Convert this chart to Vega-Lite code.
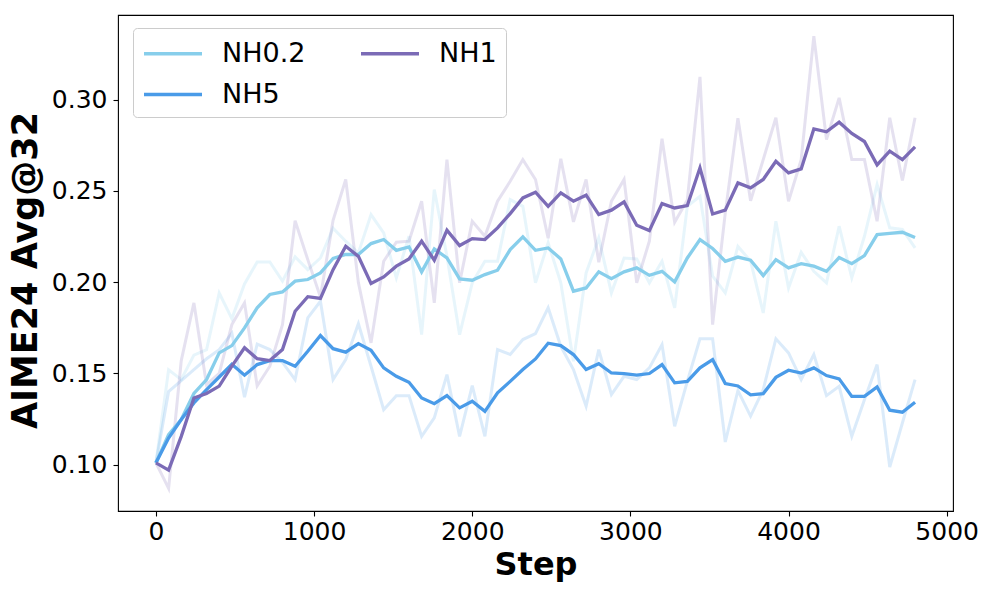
{
"$schema": "https://vega.github.io/schema/vega-lite/v6.json",
"width": 835, "height": 496,
"autosize": {"type": "none"},
"padding": {"left": 118, "top": 15, "right": 43, "bottom": 87},
"background": "white",
"config": {
  "view": {"stroke": "black", "strokeWidth": 1.1},
  "font": "DejaVu Sans",
  "axis": {"grid": false, "domain": false, "tickColor": "black", "tickWidth": 1.1, "tickSize": 5, "labelFont": "DejaVu Sans", "labelFontSize": 25, "labelColor": "black", "titleFont": "DejaVu Sans", "titleFontWeight": "bold", "titleColor": "black"}
},
"data": {"values": [
{"step":0,"series":"NH0.2","raw":0.101,"smooth":0.101},
{"step":80,"series":"NH0.2","raw":0.152,"smooth":0.1164},
{"step":160,"series":"NH0.2","raw":0.1466,"smooth":0.1247},
{"step":240,"series":"NH0.2","raw":0.160,"smooth":0.139},
{"step":320,"series":"NH0.2","raw":0.163,"smooth":0.1466},
{"step":400,"series":"NH0.2","raw":0.194,"smooth":0.1612},
{"step":480,"series":"NH0.2","raw":0.180,"smooth":0.1652},
{"step":560,"series":"NH0.2","raw":0.199,"smooth":0.1749},
{"step":640,"series":"NH0.2","raw":0.211,"smooth":0.1859},
{"step":720,"series":"NH0.2","raw":0.211,"smooth":0.1932},
{"step":800,"series":"NH0.2","raw":0.2005,"smooth":0.1946},
{"step":880,"series":"NH0.2","raw":0.2138,"smooth":0.2005},
{"step":960,"series":"NH0.2","raw":0.2068,"smooth":0.2014},
{"step":1040,"series":"NH0.2","raw":0.2132,"smooth":0.2050},
{"step":1120,"series":"NH0.2","raw":0.2295,"smooth":0.2130},
{"step":1200,"series":"NH0.2","raw":0.2224,"smooth":0.2151},
{"step":1280,"series":"NH0.2","raw":0.2160,"smooth":0.2151},
{"step":1360,"series":"NH0.2","raw":0.2370,"smooth":0.2211},
{"step":1440,"series":"NH0.2","raw":0.2270,"smooth":0.2233},
{"step":1520,"series":"NH0.2","raw":0.2023,"smooth":0.2174},
{"step":1600,"series":"NH0.2","raw":0.2251,"smooth":0.2193},
{"step":1680,"series":"NH0.2","raw":0.1712,"smooth":0.2056},
{"step":1760,"series":"NH0.2","raw":0.2507,"smooth":0.2182},
{"step":1840,"series":"NH0.2","raw":0.2141,"smooth":0.2132},
{"step":1920,"series":"NH0.2","raw":0.1712,"smooth":0.2017},
{"step":2000,"series":"NH0.2","raw":0.1996,"smooth":0.2010},
{"step":2080,"series":"NH0.2","raw":0.2114,"smooth":0.2041},
{"step":2160,"series":"NH0.2","raw":0.2114,"smooth":0.2065},
{"step":2240,"series":"NH0.2","raw":0.2452,"smooth":0.2178},
{"step":2320,"series":"NH0.2","raw":0.2415,"smooth":0.2248},
{"step":2400,"series":"NH0.2","raw":0.1996,"smooth":0.2174},
{"step":2480,"series":"NH0.2","raw":0.2215,"smooth":0.2187},
{"step":2560,"series":"NH0.2","raw":0.1996,"smooth":0.2127},
{"step":2640,"series":"NH0.2","raw":0.1566,"smooth":0.1950},
{"step":2720,"series":"NH0.2","raw":0.2050,"smooth":0.1968},
{"step":2800,"series":"NH0.2","raw":0.2242,"smooth":0.2056},
{"step":2880,"series":"NH0.2","raw":0.1941,"smooth":0.2019},
{"step":2960,"series":"NH0.2","raw":0.2132,"smooth":0.2056},
{"step":3040,"series":"NH0.2","raw":0.2127,"smooth":0.2078},
{"step":3120,"series":"NH0.2","raw":0.1996,"smooth":0.2037},
{"step":3200,"series":"NH0.2","raw":0.2114,"smooth":0.2059},
{"step":3280,"series":"NH0.2","raw":0.1859,"smooth":0.2001},
{"step":3360,"series":"NH0.2","raw":0.2415,"smooth":0.2132},
{"step":3440,"series":"NH0.2","raw":0.2470,"smooth":0.2233},
{"step":3520,"series":"NH0.2","raw":0.2032,"smooth":0.2184},
{"step":3600,"series":"NH0.2","raw":0.1941,"smooth":0.2114},
{"step":3680,"series":"NH0.2","raw":0.2195,"smooth":0.2137},
{"step":3760,"series":"NH0.2","raw":0.2115,"smooth":0.2120},
{"step":3840,"series":"NH0.2","raw":0.1831,"smooth":0.2036},
{"step":3920,"series":"NH0.2","raw":0.2333,"smooth":0.2123},
{"step":4000,"series":"NH0.2","raw":0.1968,"smooth":0.2078},
{"step":4080,"series":"NH0.2","raw":0.2163,"smooth":0.2101},
{"step":4160,"series":"NH0.2","raw":0.2059,"smooth":0.2087},
{"step":4240,"series":"NH0.2","raw":0.1996,"smooth":0.2059},
{"step":4320,"series":"NH0.2","raw":0.2306,"smooth":0.2134},
{"step":4400,"series":"NH0.2","raw":0.2023,"smooth":0.2101},
{"step":4480,"series":"NH0.2","raw":0.2251,"smooth":0.2145},
{"step":4560,"series":"NH0.2","raw":0.2534,"smooth":0.2260},
{"step":4640,"series":"NH0.2","raw":0.2297,"smooth":0.2267},
{"step":4720,"series":"NH0.2","raw":0.2288,"smooth":0.2273},
{"step":4800,"series":"NH0.2","raw":0.2187,"smooth":0.2244},
{"step":0,"series":"NH5","raw":0.101,"smooth":0.101},
{"step":80,"series":"NH5","raw":0.140,"smooth":0.1146},
{"step":160,"series":"NH5","raw":0.146,"smooth":0.1247},
{"step":240,"series":"NH5","raw":0.152,"smooth":0.1338},
{"step":320,"series":"NH5","raw":0.158,"smooth":0.1411},
{"step":400,"series":"NH5","raw":0.163,"smooth":0.148},
{"step":480,"series":"NH5","raw":0.172,"smooth":0.155},
{"step":560,"series":"NH5","raw":0.137,"smooth":0.149},
{"step":640,"series":"NH5","raw":0.166,"smooth":0.1548},
{"step":720,"series":"NH5","raw":0.163,"smooth":0.157},
{"step":800,"series":"NH5","raw":0.156,"smooth":0.157},
{"step":880,"series":"NH5","raw":0.1466,"smooth":0.1539},
{"step":960,"series":"NH5","raw":0.1804,"smooth":0.1621},
{"step":1040,"series":"NH5","raw":0.1895,"smooth":0.1707},
{"step":1120,"series":"NH5","raw":0.1466,"smooth":0.1635},
{"step":1200,"series":"NH5","raw":0.1575,"smooth":0.1616},
{"step":1280,"series":"NH5","raw":0.1772,"smooth":0.1663},
{"step":1360,"series":"NH5","raw":0.1539,"smooth":0.1627},
{"step":1440,"series":"NH5","raw":0.1301,"smooth":0.1530},
{"step":1520,"series":"NH5","raw":0.1378,"smooth":0.1484},
{"step":1600,"series":"NH5","raw":0.1378,"smooth":0.1451},
{"step":1680,"series":"NH5","raw":0.1155,"smooth":0.1365},
{"step":1760,"series":"NH5","raw":0.1256,"smooth":0.1334},
{"step":1840,"series":"NH5","raw":0.1493,"smooth":0.1378},
{"step":1920,"series":"NH5","raw":0.1155,"smooth":0.1311},
{"step":2000,"series":"NH5","raw":0.1433,"smooth":0.1347},
{"step":2080,"series":"NH5","raw":0.1155,"smooth":0.1292},
{"step":2160,"series":"NH5","raw":0.1630,"smooth":0.1393},
{"step":2240,"series":"NH5","raw":0.1603,"smooth":0.1456},
{"step":2320,"series":"NH5","raw":0.1685,"smooth":0.1521},
{"step":2400,"series":"NH5","raw":0.1718,"smooth":0.1579},
{"step":2480,"series":"NH5","raw":0.1859,"smooth":0.1665},
{"step":2560,"series":"NH5","raw":0.1648,"smooth":0.1652},
{"step":2640,"series":"NH5","raw":0.1521,"smooth":0.1603},
{"step":2720,"series":"NH5","raw":0.1320,"smooth":0.1521},
{"step":2800,"series":"NH5","raw":0.1630,"smooth":0.1553},
{"step":2880,"series":"NH5","raw":0.1384,"smooth":0.1502},
{"step":2960,"series":"NH5","raw":0.1484,"smooth":0.1499},
{"step":3040,"series":"NH5","raw":0.1466,"smooth":0.1490},
{"step":3120,"series":"NH5","raw":0.1530,"smooth":0.1499},
{"step":3200,"series":"NH5","raw":0.1658,"smooth":0.1548},
{"step":3280,"series":"NH5","raw":0.1210,"smooth":0.1448},
{"step":3360,"series":"NH5","raw":0.1456,"smooth":0.1456},
{"step":3440,"series":"NH5","raw":0.1689,"smooth":0.1530},
{"step":3520,"series":"NH5","raw":0.1689,"smooth":0.1575},
{"step":3600,"series":"NH5","raw":0.1124,"smooth":0.1444},
{"step":3680,"series":"NH5","raw":0.1406,"smooth":0.1431},
{"step":3760,"series":"NH5","raw":0.1266,"smooth":0.1382},
{"step":3840,"series":"NH5","raw":0.1411,"smooth":0.1389},
{"step":3920,"series":"NH5","raw":0.1689,"smooth":0.1478},
{"step":4000,"series":"NH5","raw":0.1612,"smooth":0.1517},
{"step":4080,"series":"NH5","raw":0.1466,"smooth":0.1502},
{"step":4160,"series":"NH5","raw":0.1603,"smooth":0.1530},
{"step":4240,"series":"NH5","raw":0.1378,"smooth":0.1488},
{"step":4320,"series":"NH5","raw":0.1429,"smooth":0.1470},
{"step":4400,"series":"NH5","raw":0.1155,"smooth":0.1374},
{"step":4480,"series":"NH5","raw":0.1356,"smooth":0.1374},
{"step":4560,"series":"NH5","raw":0.1548,"smooth":0.1426},
{"step":4640,"series":"NH5","raw":0.0987,"smooth":0.1298},
{"step":4720,"series":"NH5","raw":0.1228,"smooth":0.1287},
{"step":4800,"series":"NH5","raw":0.1466,"smooth":0.1342},
{"step":0,"series":"NH1","raw":0.101,"smooth":0.101},
{"step":80,"series":"NH1","raw":0.087,"smooth":0.097},
{"step":160,"series":"NH1","raw":0.157,"smooth":0.1155},
{"step":240,"series":"NH1","raw":0.1886,"smooth":0.1365},
{"step":320,"series":"NH1","raw":0.1438,"smooth":0.139},
{"step":400,"series":"NH1","raw":0.150,"smooth":0.143},
{"step":480,"series":"NH1","raw":0.1767,"smooth":0.154},
{"step":560,"series":"NH1","raw":0.1886,"smooth":0.164},
{"step":640,"series":"NH1","raw":0.1431,"smooth":0.158},
{"step":720,"series":"NH1","raw":0.1539,"smooth":0.157},
{"step":800,"series":"NH1","raw":0.1767,"smooth":0.163},
{"step":880,"series":"NH1","raw":0.2336,"smooth":0.184},
{"step":960,"series":"NH1","raw":0.2123,"smooth":0.192},
{"step":1040,"series":"NH1","raw":0.1918,"smooth":0.191},
{"step":1120,"series":"NH1","raw":0.2338,"smooth":0.2068},
{"step":1200,"series":"NH1","raw":0.2562,"smooth":0.2196},
{"step":1280,"series":"NH1","raw":0.1997,"smooth":0.2141},
{"step":1360,"series":"NH1","raw":0.1667,"smooth":0.1992},
{"step":1440,"series":"NH1","raw":0.2114,"smooth":0.2028},
{"step":1520,"series":"NH1","raw":0.2218,"smooth":0.2087},
{"step":1600,"series":"NH1","raw":0.2224,"smooth":0.2127},
{"step":1680,"series":"NH1","raw":0.2443,"smooth":0.2224},
{"step":1760,"series":"NH1","raw":0.1886,"smooth":0.2120},
{"step":1840,"series":"NH1","raw":0.2671,"smooth":0.2284},
{"step":1920,"series":"NH1","raw":0.1996,"smooth":0.2200},
{"step":2000,"series":"NH1","raw":0.2333,"smooth":0.2238},
{"step":2080,"series":"NH1","raw":0.2251,"smooth":0.2233},
{"step":2160,"series":"NH1","raw":0.2443,"smooth":0.2297},
{"step":2240,"series":"NH1","raw":0.2552,"smooth":0.2375},
{"step":2320,"series":"NH1","raw":0.2671,"smooth":0.2461},
{"step":2400,"series":"NH1","raw":0.2562,"smooth":0.2492},
{"step":2480,"series":"NH1","raw":0.2240,"smooth":0.2415},
{"step":2560,"series":"NH1","raw":0.2675,"smooth":0.2489},
{"step":2640,"series":"NH1","raw":0.2330,"smooth":0.2443},
{"step":2720,"series":"NH1","raw":0.2562,"smooth":0.2476},
{"step":2800,"series":"NH1","raw":0.2109,"smooth":0.2370},
{"step":2880,"series":"NH1","raw":0.2443,"smooth":0.2394},
{"step":2960,"series":"NH1","raw":0.2562,"smooth":0.2439},
{"step":3040,"series":"NH1","raw":0.1996,"smooth":0.2311},
{"step":3120,"series":"NH1","raw":0.2224,"smooth":0.2282},
{"step":3200,"series":"NH1","raw":0.2785,"smooth":0.2430},
{"step":3280,"series":"NH1","raw":0.2328,"smooth":0.2406},
{"step":3360,"series":"NH1","raw":0.2450,"smooth":0.2419},
{"step":3440,"series":"NH1","raw":0.3124,"smooth":0.2626},
{"step":3520,"series":"NH1","raw":0.1767,"smooth":0.2373},
{"step":3600,"series":"NH1","raw":0.2379,"smooth":0.2394},
{"step":3680,"series":"NH1","raw":0.2898,"smooth":0.2543},
{"step":3760,"series":"NH1","raw":0.2445,"smooth":0.2516},
{"step":3840,"series":"NH1","raw":0.2671,"smooth":0.2562},
{"step":3920,"series":"NH1","raw":0.2900,"smooth":0.2662},
{"step":4000,"series":"NH1","raw":0.2443,"smooth":0.2598},
{"step":4080,"series":"NH1","raw":0.2671,"smooth":0.2620},
{"step":4160,"series":"NH1","raw":0.3347,"smooth":0.2839},
{"step":4240,"series":"NH1","raw":0.2781,"smooth":0.2823},
{"step":4320,"series":"NH1","raw":0.3009,"smooth":0.2876},
{"step":4400,"series":"NH1","raw":0.2671,"smooth":0.2814},
{"step":4480,"series":"NH1","raw":0.2671,"smooth":0.2770},
{"step":4560,"series":"NH1","raw":0.2333,"smooth":0.2642},
{"step":4640,"series":"NH1","raw":0.2900,"smooth":0.2717},
{"step":4720,"series":"NH1","raw":0.2556,"smooth":0.2671},
{"step":4800,"series":"NH1","raw":0.2900,"smooth":0.2741}
]},
"encoding": {
  "x": {"field": "step", "type": "quantitative", "scale": {"domain": [-240, 5040], "nice": false, "zero": false},
        "axis": {"title": "Step", "values": [0,1000,2000,3000,4000,5000], "format": "d", "labelPadding": 3, "titlePadding": 5, "titleFontSize": 32, "labelFlush": false}},
  "color": {"field": "series", "type": "nominal",
            "scale": {"domain": ["NH0.2", "NH5", "NH1"], "range": ["#87CEEB", "#4A9BE8", "#7B6BB6"]},
            "legend": {"title": null, "orient": "none", "legendX": 15, "legendY": 13, "columns": 2, "symbolType": "M-1,0H3", "symbolSize": 841, "symbolStrokeWidth": 3.3, "symbolOpacity": 1, "symbolFillColor": "transparent", "labelFont": "DejaVu Sans", "labelFontSize": 27, "labelColor": "black", "labelOffset": 47, "columnPadding": 48, "rowPadding": 11, "padding": 9, "fillColor": "white", "strokeColor": "#cccccc", "cornerRadius": 4}}
},
"layer": [
  {"mark": {"type": "line", "strokeWidth": 3, "opacity": 0.2, "clip": true},
   "encoding": {"y": {"field": "raw", "type": "quantitative"}}},
  {"mark": {"type": "line", "strokeWidth": 3.3, "clip": true},
   "encoding": {"y": {"field": "smooth", "type": "quantitative", "scale": {"domain": [0.0746, 0.3463], "nice": false, "zero": false},
        "axis": {"title": "AIME24 Avg@32", "values": [0.10,0.15,0.20,0.25,0.30], "format": ".2f", "labelPadding": 6, "titlePadding": 8, "titleFontSize": 35, "titleY": 255, "labelFlush": false}}}}
]
}
